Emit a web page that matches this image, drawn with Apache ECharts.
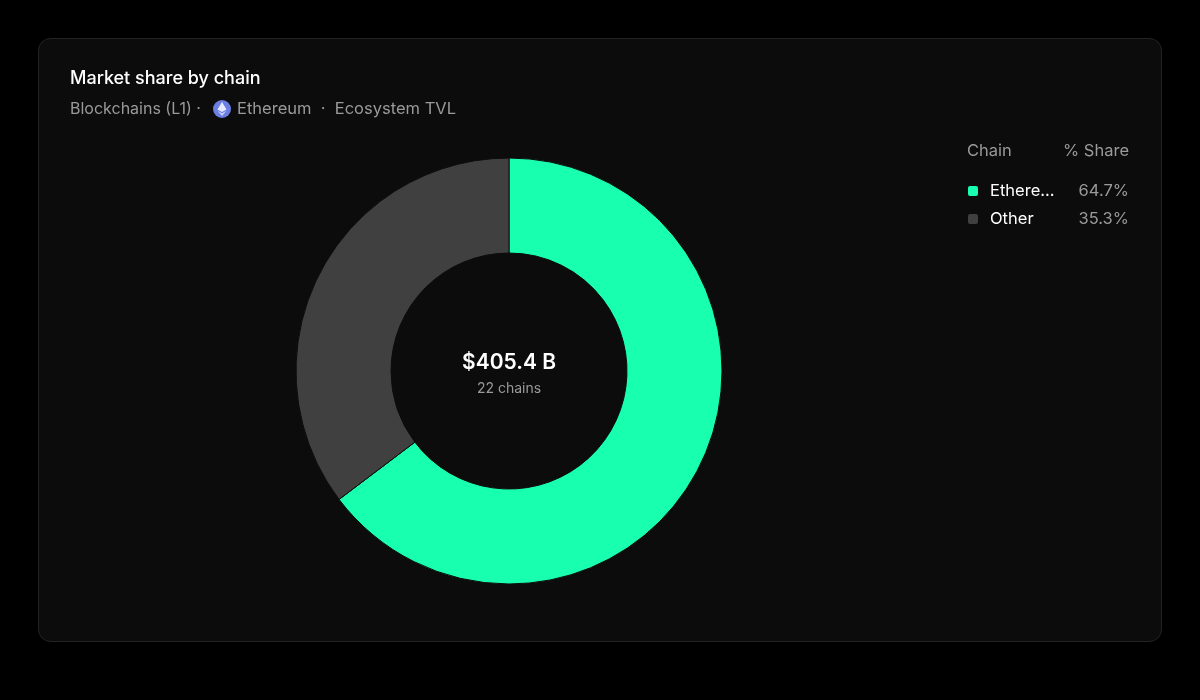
<!DOCTYPE html>
<html><head><meta charset="utf-8">
<script src="https://cdn.jsdelivr.net/npm/echarts@6/dist/echarts.min.js"></script>
<style>html,body{margin:0;background:#000;}#c{width:1200px;height:700px;}</style>
</head><body><div id="c"></div>
<script>
const chains = ['Ethereum', 'Other'];
const shares = [64.7, 35.3];
const colors = ['#19ffb0', '#404040'];
const legendLabels = ['Ethere...', 'Other'];
const totalLabel = '$405.4 B';
const countLabel = '22 chains';
const F = 'Inter, "Noto Sans", sans-serif';

function T(x, y, text, fill, font, align) {
  return {type:'text', style:{x:x, y:y, text:text, fill:fill, font:font, align:align||'left', verticalAlign:'middle'}};
}
const chart = echarts.init(document.getElementById('c'));
const g = [
  {type:'rect', shape:{x:38.5,y:38.5,width:1123,height:603,r:12}, style:{fill:'#0c0c0c',stroke:'#222',lineWidth:1}, z:-10},
  T(70, 79, 'Market share by chain', '#fff', '500 18px '+F),
  T(70, 109, 'Blockchains (L1) ·', '#9a9a9a', '16px '+F),
  {type:'circle', shape:{cx:222, cy:109, r:9}, style:{fill:'#6b7fe3'}},
  {type:'polygon', shape:{points:[[222,102],[226.5,109.5],[222,112],[217.5,109.5]]}, style:{fill:'#e8ebff'}},
  {type:'polygon', shape:{points:[[217.5,110.7],[222,113.3],[226.5,110.7],[222,116]]}, style:{fill:'#c9d0ff'}},
  T(237, 109, 'Ethereum  ·  Ecosystem TVL', '#9a9a9a', '16.5px '+F),
  T(967, 151, 'Chain', '#9a9a9a', '16.5px '+F),
  T(1129, 151, '% Share', '#9a9a9a', '16.5px '+F, 'right'),
  T(509, 363, totalLabel, '#fff', '600 21px '+F, 'center'),
  T(509, 389, countLabel, '#9a9a9a', '14px '+F, 'center')
];
chains.forEach((c,i)=>{
  const y = 191 + i*28;
  g.push({type:'rect', shape:{x:968,y:y-5,width:10,height:10,r:2}, style:{fill:colors[i]}});
  g.push(T(990, y, legendLabels[i], '#fff', '16.5px '+F));
  g.push(T(1129, y, shares[i].toFixed(1)+'%', '#9a9a9a', '16.5px '+F, 'right'));
});
chart.setOption({
  backgroundColor:'#000',
  animation:false,
  graphic:g,
  series:[{
    type:'pie', center:[509,371], radius:[118,213], startAngle:90, clockwise:true,
    label:{show:false}, labelLine:{show:false}, silent:true,
    itemStyle:{borderColor:'#0c0c0c', borderWidth:1},
    data: chains.map((c,i)=>({name:c, value:shares[i], itemStyle:{color:colors[i]}}))
  }]
});
</script></body></html>
